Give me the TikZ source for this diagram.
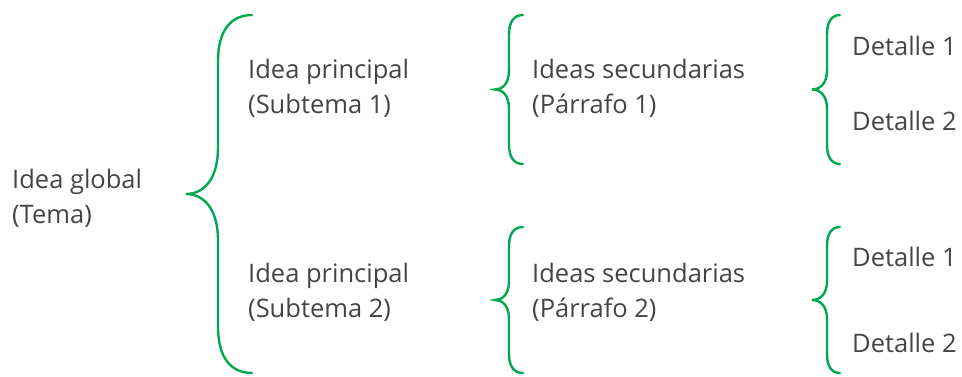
\documentclass[tikz,border=0pt]{standalone}
\usepackage{fontspec}
\setmainfont{Open Sans}
\definecolor{bracegreen}{RGB}{0,168,80}
\definecolor{txtgray}{RGB}{68,68,68}
\newcommand\drawbrace[5]{% xend, xvert, xtip, ytop, ybot
  \pgfmathsetmacro\ymid{(#4+#5)/2}
  \pgfmathsetmacro\r{(#5-#4)/10}
  \draw[bracestyle] (#1,#4) .. controls ({#2+(#1-#2)*0.4},#4) and (#2,{#4+\r*0.4}) .. (#2,{#4+\r*1.3})
    -- (#2,{\ymid-\r*1.3}) .. controls (#2,{\ymid-\r*0.35}) and ({#3+(#2-#3)*0.5},\ymid) .. (#3,\ymid)
    .. controls ({#3+(#2-#3)*0.5},\ymid) and (#2,{\ymid+\r*0.35}) .. (#2,{\ymid+\r*1.3})
    -- (#2,{#5-\r*1.3}) .. controls (#2,{#5-\r*0.4}) and ({#2+(#1-#2)*0.4},#5) .. (#1,#5);
}
\tikzset{
  bracestyle/.style={draw=bracegreen, line width=2.4pt, line cap=round},
  lbl/.style={anchor=base west, inner sep=0pt, text=txtgray, font=\fontsize{25.5}{35.5}\selectfont}
}
\begin{document}
\begin{tikzpicture}[x=1pt,y=-1pt]
\useasboundingbox (0,0) rectangle (962,376);
% braces
\drawbrace{252}{218}{186}{15}{373}
\drawbrace{523}{509}{495}{15}{164}
\drawbrace{523}{509}{495}{227}{373}
\drawbrace{840}{827}{812}{15}{164}
\drawbrace{840}{827}{812}{227}{373}
% texts
\node[lbl] (global) at (12,188) {\begin{tabular}[t]{@{}l@{}}Idea global\\(Tema)\end{tabular}};
\node[lbl] (prin1) at (248,78) {\begin{tabular}[t]{@{}l@{}}Idea principal\\(Subtema 1)\end{tabular}};
\node[lbl] (prin2) at (248,282) {\begin{tabular}[t]{@{}l@{}}Idea principal\\(Subtema 2)\end{tabular}};
\node[lbl] (sec1) at (532,78) {\begin{tabular}[t]{@{}l@{}}Ideas secundarias\\(Párrafo 1)\end{tabular}};
\node[lbl] (sec2) at (532,282) {\begin{tabular}[t]{@{}l@{}}Ideas secundarias\\(Párrafo 2)\end{tabular}};
\node[lbl] (d11) at (852,55) {Detalle 1};
\node[lbl] (d12) at (852,130) {Detalle 2};
\node[lbl] (d21) at (852,266) {Detalle 1};
\node[lbl] (d22) at (852,352) {Detalle 2};
\end{tikzpicture}
\end{document}
